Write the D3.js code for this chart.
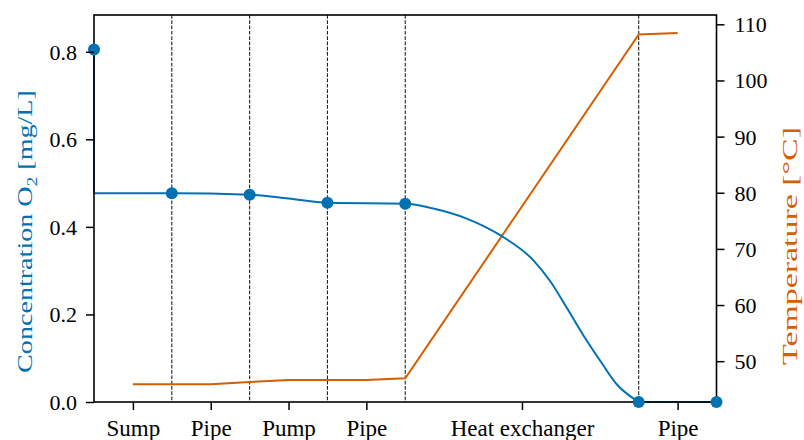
<!DOCTYPE html>
<html>
<head>
<meta charset="utf-8">
<script src="https://cdn.jsdelivr.net/npm/d3@7"></script>
<style>
  body { margin: 0; background: #fff; }
  svg { display: block; }
  text { font-family: "Liberation Serif", "Times New Roman", Times, "DejaVu Serif", serif; }
</style>
</head>
<body>
<svg id="chart"></svg>
<script>
const width = 804;
const height = 440;
const margin = {left: 94, right: 88, top: 15, bottom: 38};
const fontFamily = '"Liberation Serif", "Times New Roman", Times, "DejaVu Serif", serif';

// process sections along the loop (x in section units)
const sectionNames = ['Sump', 'Pipe', 'Pump', 'Pipe', 'Heat exchanger', 'Pipe'];
const sectionCenters = [0.5, 1.5, 2.5, 3.5, 5.5, 7.5];
const sectionBounds = [1, 2, 3, 4, 7];

// O2 concentration at the stations (markers)
const stationPos = [0, 1, 2, 3, 4, 7, 8];
const stationO2 = [0.805, 0.477, 0.4736, 0.455, 0.453, 0, 0];

// O2 profile through the loop
const o2Pos = [0, 1, 2, 2.5, 3, 4, 4.36, 4.79, 5.22, 5.65, 5.87, 6.08, 6.29, 6.51, 6.72, 6.94, 7, 8];
const o2Val = [0.477, 0.477, 0.4736, 0.465, 0.455, 0.453, 0.442, 0.419, 0.381, 0.323, 0.274, 0.214, 0.152, 0.093, 0.04, 0.007, 0, 0];

// temperature profile
const tempPos = [0.5, 1, 1.5, 2, 2.5, 3, 3.5, 4, 7, 7.5];
const tempVal = [45.9, 45.9, 45.9, 46.3, 46.65, 46.65, 46.65, 46.95, 108.2, 108.45];

const o2Ticks = [0, 0.2, 0.4, 0.6, 0.8];
const tempTicks = [50, 60, 70, 80, 90, 100, 110];

const blue = '#0072B2';
const orange = '#D55E00';

const svg = d3.select('#chart')
    .attr('width', width)
    .attr('height', height);

const x = d3.scaleLinear().domain([0, 8]).range([margin.left, width - margin.right + 0.5]);
const yL = d3.scaleLinear().domain([0, 0.884]).range([height - margin.bottom, margin.top]);
const yR = d3.scaleLinear().domain([42.73, 111.66]).range([height - margin.bottom, margin.top]);

const bottom = height - margin.bottom;

// section boundaries
svg.append('g')
    .selectAll('line')
    .data(sectionBounds)
    .enter()
    .append('line')
    .attr('x1', d => x(d))
    .attr('x2', d => x(d))
    .attr('y1', margin.top)
    .attr('y2', bottom)
    .attr('stroke', '#222')
    .attr('stroke-width', 1.1)
    .attr('stroke-dasharray', '3.7,1.6');

// temperature line
svg.append('path')
    .datum(tempPos.map((p, i) => [p, tempVal[i]]))
    .attr('fill', 'none')
    .attr('stroke', orange)
    .attr('stroke-width', 2)
    .attr('d', d3.line().x(d => x(d[0])).y(d => yR(d[1])));

// O2: initial drop at the sump inlet, then the smooth profile
svg.append('path')
    .datum([[stationPos[0], stationO2[0]], [o2Pos[0], o2Val[0]]])
    .attr('fill', 'none')
    .attr('stroke', blue)
    .attr('stroke-width', 2)
    .attr('d', d3.line().x(d => x(d[0])).y(d => yL(d[1])));

svg.append('path')
    .datum(o2Pos.map((p, i) => [p, o2Val[i]]))
    .attr('fill', 'none')
    .attr('stroke', blue)
    .attr('stroke-width', 2)
    .attr('d', d3.line().curve(d3.curveMonotoneX).x(d => x(d[0])).y(d => yL(d[1])));

// frame
svg.append('rect')
    .attr('x', margin.left)
    .attr('y', margin.top)
    .attr('width', x(8) - margin.left)
    .attr('height', bottom - margin.top)
    .attr('fill', 'none')
    .attr('stroke', '#000')
    .attr('stroke-width', 1.6);

// markers
svg.append('g')
    .selectAll('circle')
    .data(stationPos)
    .enter()
    .append('circle')
    .attr('cx', d => x(d))
    .attr('cy', (d, i) => yL(stationO2[i]))
    .attr('r', 6)
    .attr('fill', blue);

function styleAxis(g, size) {
    g.attr('font-family', fontFamily).attr('font-size', size);
    g.select('.domain').remove();
    g.selectAll('.tick line').attr('stroke', '#000').attr('stroke-width', 1.5);
    g.selectAll('.tick text').attr('fill', '#000');
}

svg.append('g')
    .attr('transform', `translate(${margin.left}, 0)`)
    .call(d3.axisLeft(yL).tickValues(o2Ticks).tickFormat(d3.format('.1f')).tickSize(8).tickPadding(9))
    .call(styleAxis, 22)
    .selectAll('.tick text').attr('dy', '0.34em');

svg.append('g')
    .attr('transform', `translate(${x(8)}, 0)`)
    .call(d3.axisRight(yR).tickValues(tempTicks).tickSize(8).tickPadding(10))
    .call(styleAxis, 22)
    .selectAll('.tick text').attr('dy', '0.34em');

svg.append('g')
    .attr('transform', `translate(0, ${bottom})`)
    .call(d3.axisBottom(x).tickValues(sectionCenters).tickFormat((d, i) => sectionNames[i]).tickSize(8).tickPadding(10))
    .call(styleAxis, 23);

// axis titles (stretched along the baseline, as in the original figure)
function placeTitle(t, cx, cy, len) {
    const natural = t.node().getComputedTextLength();
    t.attr('transform', `translate(${cx}, ${cy}) rotate(-90) scale(${len / natural}, 1)`);
}

const leftTitle = svg.append('text')
    .attr('text-anchor', 'middle')
    .attr('fill', blue)
    .attr('font-family', fontFamily)
    .attr('font-size', 22);
leftTitle.append('tspan').text('Concentration O');
leftTitle.append('tspan').attr('dy', 5).attr('font-size', 15).text('2');
leftTitle.append('tspan').attr('dy', -5).text(' [mg/L]');
placeTitle(leftTitle, 32, 231.5, 283);

const rightTitle = svg.append('text')
    .attr('text-anchor', 'middle')
    .attr('fill', orange)
    .attr('font-family', fontFamily)
    .attr('font-size', 22)
    .text('Temperature [°C]');
placeTitle(rightTitle, 797, 246, 238);
</script>
</body>
</html>
